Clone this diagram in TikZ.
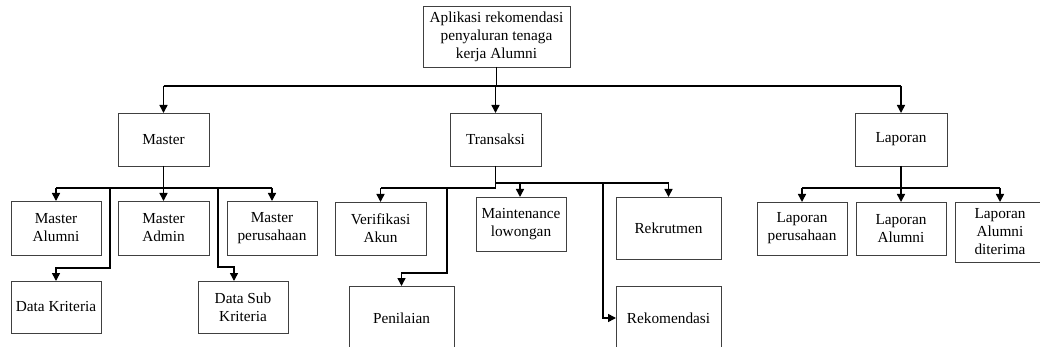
\documentclass[tikz,border=0pt]{standalone}
\usepackage{fontspec}
\setmainfont{Liberation Serif}
\usetikzlibrary{arrows.meta}

\tikzset{
  box/.style={draw=black!75, line width=0.9pt, fill=white, align=center,
    inner sep=0pt, outer sep=0pt, font=\fontsize{15.3}{18}\selectfont},
  line/.style={line width=1.5pt, black},
  arr/.style={line width=1.5pt, black, -{Triangle[width=8pt,length=8pt]}},
}

\begin{document}
\begin{tikzpicture}[x=1pt, y=-1pt]
  \useasboundingbox (0,0) rectangle (1040,347);
  \clip (0,0) rectangle (1040,347);
  \fill[white] (0,0) rectangle (1040,347);

  % root and first level
  \node[box, minimum width=147pt, minimum height=61pt] (root) at (496.5,36.5)
    {Aplikasi rekomendasi\\penyaluran tenaga\\kerja Alumni};
  \node[box, minimum width=91pt, minimum height=53pt] (master) at (163.5,139.5) {Master};
  \node[box, minimum width=91pt, minimum height=53pt] (trans) at (495.5,139.5) {Transaksi};
  \node[box, minimum width=92pt, minimum height=53pt] (lap) at (901,139.5) {Laporan};

  % Master children
  \node[box, minimum width=90pt, minimum height=54pt] (malumni) at (56,228) {Master\\Alumni};
  \node[box, minimum width=91pt, minimum height=54pt] (madmin) at (163.5,228) {Master\\Admin};
  \node[box, minimum width=90pt, minimum height=54pt] (mperus) at (272,228) {Master\\perusahaan};
  \node[box, minimum width=90pt, minimum height=52pt] (dkrit) at (56,307) {Data Kriteria};
  \node[box, minimum width=90pt, minimum height=52pt] (dsub) at (243,307) {Data Sub\\Kriteria};

  % Transaksi children
  \node[box, minimum width=91pt, minimum height=53pt] (verif) at (380.5,228.5) {Verifikasi\\Akun};
  \node[box, minimum width=90pt, minimum height=54pt] (maint) at (521,224) {Maintenance\\lowongan};
  \node[box, minimum width=105pt, minimum height=62pt] (rekrut) at (668.5,228) {Rekrutmen};
  \node[box, minimum width=105pt, minimum height=64pt] (penil) at (401.5,318) {Penilaian};
  \node[box, minimum width=105pt, minimum height=64pt] (rekom) at (668.5,318) {Rekomendasi};

  % Laporan children
  \node[box, minimum width=90pt, minimum height=53pt] (lperus) at (802,228.5) {Laporan\\perusahaan};
  \node[box, minimum width=90pt, minimum height=53pt] (lalum) at (901,228.5) {Laporan\\Alumni};
  \node[box, minimum width=90pt, minimum height=60pt] (lditer) at (1000,232) {Laporan\\Alumni\\diterima};

  % root -> first level
  \draw[line] (root.south) -- (root.south |- 0,86);
  \draw[line] (master.north |- 0,86) -- (lap.north |- 0,86);
  \draw[arr] (master.north |- 0,86) -- (master.north);
  \draw[arr] (trans.north |- 0,86) -- (trans.north);
  \draw[arr] (lap.north |- 0,86) -- (lap.north);

  % Master -> children
  \draw[line] (master.south) -- (master.south |- 0,188);
  \draw[line] (malumni.north |- 0,188) -- (mperus.north |- 0,188);
  \draw[arr] (malumni.north |- 0,188) -- (malumni.north);
  \draw[arr] (madmin.north |- 0,188) -- (madmin.north);
  \draw[arr] (mperus.north |- 0,188) -- (mperus.north);
  \draw[arr] (110,188) -- (110,268) -- (dkrit.north |- 0,268) -- (dkrit.north);
  \draw[arr] (218,188) -- (218,267) -- (234,267) -- (234,0 |- dsub.north);

  % Transaksi -> children
  \draw[line] (trans.south) -- (trans.south |- 0,188);
  \draw[line] (trans.south |- 0,188) -- (verif.north |- 0,188);
  \draw[arr] (verif.north |- 0,188) -- (verif.north);
  \draw[arr] (447,188) -- (447,273) -- (penil.north |- 0,273) -- (penil.north);
  \draw[line] (trans.south |- 0,183) -- (rekrut.north |- 0,183);
  \draw[arr] (520,183) -- (520,0 |- maint.north);
  \draw[arr] (rekrut.north |- 0,183) -- (rekrut.north);
  \draw[arr] (603,183) -- (603,0 |- rekom.west) -- (rekom.west);

  % Laporan -> children
  \draw[line] (lap.south) -- (lap.south |- 0,188);
  \draw[line] (lperus.north |- 0,188) -- (lditer.north |- 0,188);
  \draw[arr] (lperus.north |- 0,188) -- (lperus.north);
  \draw[arr] (lalum.north |- 0,188) -- (lalum.north);
  \draw[arr] (lditer.north |- 0,188) -- (lditer.north);
\end{tikzpicture}
\end{document}
